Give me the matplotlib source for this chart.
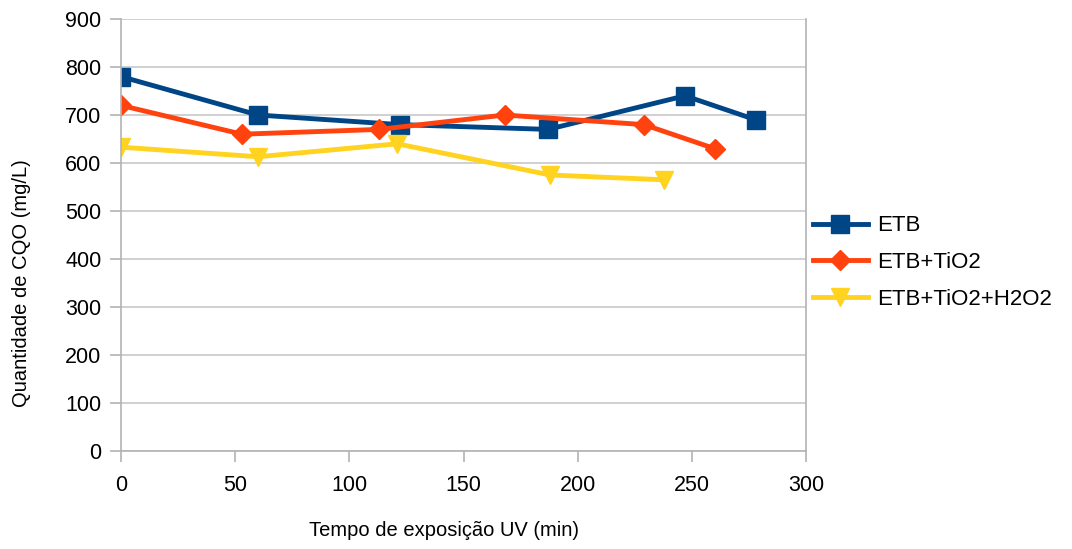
import matplotlib.pyplot as plt

plt.rcParams['font.family'] = ['Liberation Sans', 'DejaVu Sans']

# tempo de exposicao UV (min) e CQO (mg/L) de cada ensaio
etb_t = [0, 60, 122, 187, 247, 278]
etb_cqo = [780, 700, 680, 670, 740, 690]

tio2_t = [0, 53, 113, 168, 229, 260]
tio2_cqo = [720, 660, 670, 700, 680, 630]

h2o2_t = [0, 60, 121, 188, 238]
h2o2_cqo = [633, 613, 640, 575, 565]

labels = ['ETB', 'ETB+TiO2', 'ETB+TiO2+H2O2']
x_ticks = [0, 50, 100, 150, 200, 250, 300]
y_ticks = [0, 100, 200, 300, 400, 500, 600, 700, 800, 900]

fig = plt.figure(figsize=(10.72, 5.49), dpi=100)
ax = fig.add_axes([121/1072, 1 - 451/549, 685/1072, 432/549])

ax.plot(etb_t, etb_cqo, color='#004586', lw=3.5, marker='s', ms=13, label=labels[0])
ax.plot(tio2_t, tio2_cqo, color='#ff420e', lw=3.5, marker='D', ms=10, label=labels[1])
ax.plot(h2o2_t, h2o2_cqo, color='#ffd320', lw=3.5, marker='v', ms=13, label=labels[2])

ax.set_xlim(0, 300)
ax.set_ylim(0, 900)
ax.set_xticks(x_ticks)
ax.set_yticks(y_ticks)
ax.tick_params(labelsize=15.5, color='#b3b3b3', length=8, width=1.2)
ax.tick_params(axis='x', pad=9)
ax.tick_params(axis='y', pad=6)
ax.yaxis.grid(True, color='#c8c8c8', lw=1.2)
ax.set_axisbelow(True)
for side in ['left', 'right', 'bottom', 'top']:
    ax.spines[side].set_color('#b3b3b3')
    ax.spines[side].set_linewidth(1.2)
ax.spines['top'].set_visible(False)

ax.set_xlabel('Tempo de exposição UV (min)', fontsize=14.5, va='center')
ax.set_ylabel('Quantidade de CQO (mg/L)', fontsize=14.5, va='center')
ax.xaxis.set_label_coords(0.4715, -0.183)
ax.yaxis.set_label_coords(-0.145, 0.389)

ax.legend(loc='center left', bbox_to_anchor=(1.0, 0.436), frameon=False,
          fontsize=16, handlelength=2.5, handletextpad=0.4,
          borderaxespad=0.2, borderpad=0.1, labelspacing=0.71)

fig.savefig('out.png', dpi=100)
